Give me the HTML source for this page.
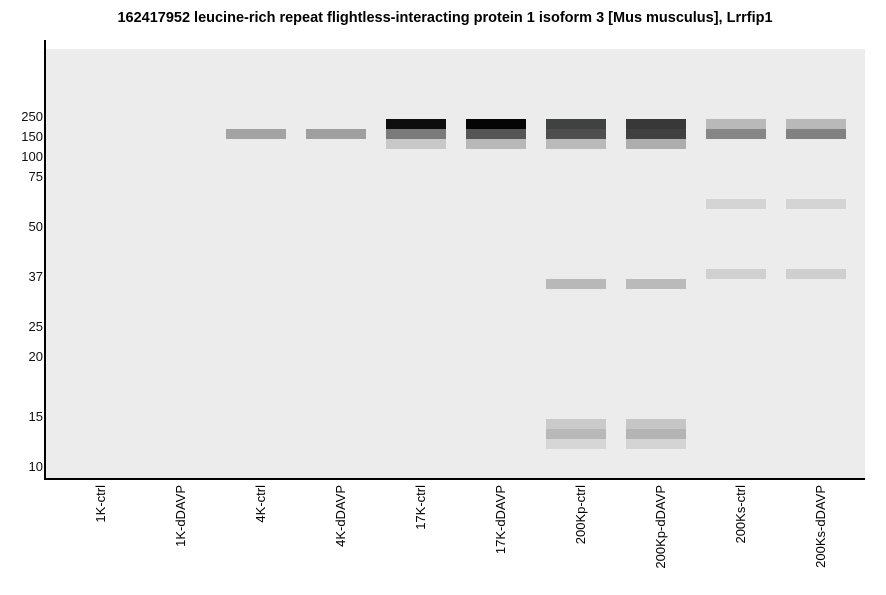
<!DOCTYPE html>
<html><head><style>
body{margin:0;width:886px;height:595px;background:#fff;font-family:"Liberation Sans",sans-serif;position:relative;overflow:hidden}
.t{position:absolute;top:10px;left:0;width:890px;text-align:center;font-weight:bold;font-size:14.5px}
.plot{position:absolute;left:46px;top:49px;width:819px;height:430px;background:#ebeceb}
.ax{position:absolute;background:#000}
.y{position:absolute;right:843px;font-size:13px;line-height:14px;color:#111}
.b{position:absolute;height:10px;width:60px}
.l{position:absolute;font-size:13px;transform-origin:0 0;transform:rotate(-90deg);white-space:nowrap;text-align:right;width:100px;line-height:14px}
</style></head><body>
<div class="t">162417952 leucine-rich repeat flightless-interacting protein 1 isoform 3 [Mus musculus], Lrrfip1</div>
<div class="plot"></div>
<div class="ax" style="left:44px;top:40px;width:2px;height:440px"></div>
<div class="ax" style="left:44px;top:478px;width:821px;height:2px"></div>
<div class="y" style="top:110px">250</div>
<div class="y" style="top:130px">150</div>
<div class="y" style="top:150px">100</div>
<div class="y" style="top:170px">75</div>
<div class="y" style="top:220px">50</div>
<div class="y" style="top:270px">37</div>
<div class="y" style="top:320px">25</div>
<div class="y" style="top:350px">20</div>
<div class="y" style="top:410px">15</div>
<div class="y" style="top:460px">10</div>

<div class="b" style="left:226px;top:129px;background:#a3a3a3"></div>
<div class="b" style="left:306px;top:129px;background:#9f9f9f"></div>
<div class="b" style="left:386px;top:119px;background:#0e0e0e"></div>
<div class="b" style="left:386px;top:129px;background:#7a7a7a"></div>
<div class="b" style="left:386px;top:139px;background:#c8c8c8"></div>
<div class="b" style="left:466px;top:119px;background:#050505"></div>
<div class="b" style="left:466px;top:129px;background:#555"></div>
<div class="b" style="left:466px;top:139px;background:#b8b8b8"></div>
<div class="b" style="left:546px;top:119px;background:#404241"></div>
<div class="b" style="left:546px;top:129px;background:#4e4e4e"></div>
<div class="b" style="left:546px;top:139px;background:#b9bab9"></div>
<div class="b" style="left:626px;top:119px;background:#383838"></div>
<div class="b" style="left:626px;top:129px;background:#404040"></div>
<div class="b" style="left:626px;top:139px;background:#adadad"></div>
<div class="b" style="left:706px;top:119px;background:#b9b9b9"></div>
<div class="b" style="left:706px;top:129px;background:#858685"></div>
<div class="b" style="left:786px;top:119px;background:#b9b9b9"></div>
<div class="b" style="left:786px;top:129px;background:#808180"></div>
<div class="b" style="left:706px;top:199px;background:#d4d4d4"></div>
<div class="b" style="left:786px;top:199px;background:#d4d4d4"></div>
<div class="b" style="left:706px;top:269px;background:#d0d0d0"></div>
<div class="b" style="left:786px;top:269px;background:#cfcfcf"></div>
<div class="b" style="left:546px;top:279px;background:#b8b8b8"></div>
<div class="b" style="left:626px;top:279px;background:#bababa"></div>
<div class="b" style="left:546px;top:419px;background:#cacaca"></div>
<div class="b" style="left:546px;top:429px;background:#b8b8b8"></div>
<div class="b" style="left:546px;top:439px;background:#d6d6d6"></div>
<div class="b" style="left:626px;top:419px;background:#c6c6c6"></div>
<div class="b" style="left:626px;top:429px;background:#b4b4b4"></div>
<div class="b" style="left:626px;top:439px;background:#d4d4d4"></div>

<div class="l" style="left:94px;top:585px">1K-ctrl</div>
<div class="l" style="left:174px;top:585px">1K-dDAVP</div>
<div class="l" style="left:254px;top:585px">4K-ctrl</div>
<div class="l" style="left:334px;top:585px">4K-dDAVP</div>
<div class="l" style="left:414px;top:585px">17K-ctrl</div>
<div class="l" style="left:494px;top:585px">17K-dDAVP</div>
<div class="l" style="left:574px;top:585px">200Kp-ctrl</div>
<div class="l" style="left:654px;top:585px">200Kp-dDAVP</div>
<div class="l" style="left:734px;top:585px">200Ks-ctrl</div>
<div class="l" style="left:814px;top:585px">200Ks-dDAVP</div>
</body></html>
